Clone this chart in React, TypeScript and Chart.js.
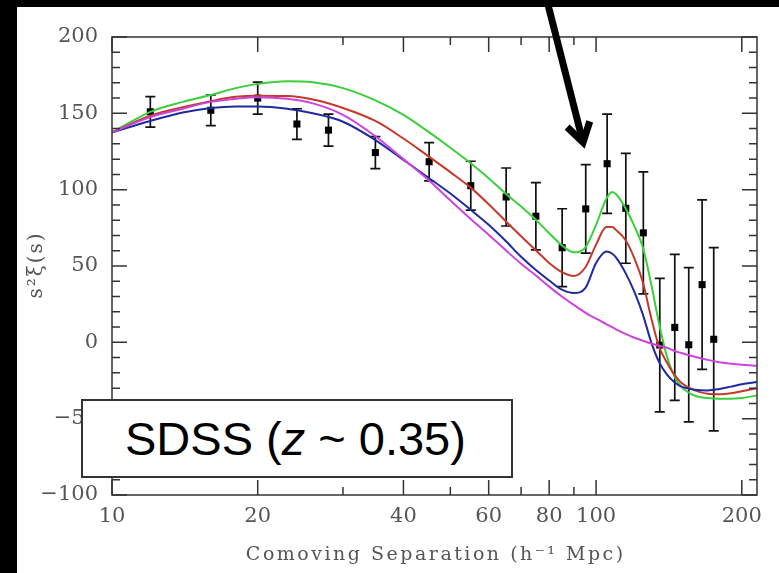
import React, { useEffect, useRef } from 'react';
import { Chart, registerables } from 'chart.js';

Chart.register(...registerables);

// Observed correlation function (SDSS LRG, z ~ 0.35)
const sep = [12, 16, 20, 24.1, 28, 35, 45.2, 55.1, 65.2, 75.1, 85.1, 95.2, 105.4, 115.2, 125.2, 135.4, 145.4, 155.4, 165.6, 175];
const xiObs = [151, 152, 160, 143, 139, 124.3, 118.3, 102.6, 95.2, 82.6, 62, 87.4, 117, 87.8, 71.7, -1.8, 9.8, -1.6, 37.8, 2];
const xiErr = [10, 10, 10.5, 10, 10.5, 10.5, 12.5, 16, 19, 22, 25.5, 29, 32.5, 36, 40, 43.7, 47.8, 50.5, 55.5, 60];

// Model curves
const modelS = [10, 12, 14, 16, 18, 20, 23, 26, 30, 35, 40, 45, 50, 55, 60, 65, 70, 75, 80, 85, 90, 95, 100, 105, 108, 110, 115, 120, 125, 130, 135, 140, 145, 150, 160, 170, 180, 190, 200, 215];
const modelGreen = [137.5, 151, 157.5, 162, 166.5, 169.3, 171, 170.4, 166.5, 158.5, 149, 138, 127.5, 117.5, 107.5, 97.5, 89, 80.5, 71.5, 63.5, 59, 62, 77, 94, 98.5, 97, 88, 76, 62, 38, 12, -9, -22, -29, -35, -36.5, -37, -37, -36.5, -34.8];
const modelRed = [137.5, 148.5, 154, 158, 160.8, 161.5, 161.3, 159, 153.5, 145, 133.5, 122, 111.5, 101.5, 90.5, 79.5, 69.5, 60.5, 52, 46, 43.5, 49, 64, 75.5, 75.5, 73.5, 67, 55, 39, 16, -3, -13, -21, -26.5, -31.5, -33.7, -34, -33.3, -32, -30];
const modelMagenta = [137.5, 147.5, 153, 157.5, 159.5, 160.5, 159.5, 156.5, 149, 135, 120, 106.5, 93, 81, 70.5, 60.5, 51.5, 44, 36.5, 30, 24.5, 19.5, 15.5, 12, 10, 8.5, 5.5, 3, 1, -0.8, -2.3, -3.5, -5.5, -7, -9.5, -11.5, -13, -14, -14.7, -15.3];
const modelBlue = [137.5, 145, 150.5, 153.5, 154.5, 154.5, 153, 150, 144.5, 132.5, 119.5, 108, 97.5, 87, 77, 66.5, 56, 47.5, 40.5, 34.5, 32.3, 35.5, 52, 59.5, 58, 55.5, 45.5, 33, 18, 0, -13, -21, -26, -29, -31, -31.5, -30.5, -29, -27.5, -26];

// Axes
const xMin = 10;
const xMax = 215;
const xMajorTicks = [10, 20, 40, 60, 80, 100, 200];
const xMinorTicks = [30, 50, 70, 90];
const yMin = -100;
const yMax = 200;
const yMajorStep = 50;
const yMinorStep = 10;

const xTitle = 'Comoving Separation (h\u207B\u00B9 Mpc)';
const yTitle = 's\u00B2\u03BE(s)';

// Arrow annotation (data coordinates)
const arrowTail = { x: 79, y: 225 };
const arrowTip = { x: 94, y: 131 };

const tickFont = { family: 'DejaVu Serif', size: 21 };
const tickColor = '#555';

function drawSpaced(ctx: any, text: string, cx: number, baseline: number, spacing: number) {
  ctx.letterSpacing = spacing + 'px';
  const w = ctx.measureText(text).width;
  ctx.textAlign = 'left';
  ctx.textBaseline = 'alphabetic';
  ctx.fillText(text, cx - (w - spacing) / 2, baseline);
  ctx.letterSpacing = '0px';
}

const framePlugin = {
  id: 'framePlugin',
  beforeDatasetsDraw(chart: any) {
    const { ctx } = chart;
    const x = chart.scales.x;
    const y = chart.scales.y;
    ctx.save();
    ctx.strokeStyle = '#111';
    ctx.lineWidth = 1.7;
    sep.forEach((s, i) => {
      const px = x.getPixelForValue(s);
      const top = y.getPixelForValue(xiObs[i] + xiErr[i]);
      const bot = y.getPixelForValue(xiObs[i] - xiErr[i]);
      ctx.beginPath();
      ctx.moveTo(px, top);
      ctx.lineTo(px, bot);
      ctx.moveTo(px - 5, top);
      ctx.lineTo(px + 5, top);
      ctx.moveTo(px - 5, bot);
      ctx.lineTo(px + 5, bot);
      ctx.stroke();
    });
    ctx.restore();
  },
  afterDraw(chart: any) {
    const { ctx, chartArea } = chart;
    const x = chart.scales.x;
    const y = chart.scales.y;
    const { left, right, top, bottom } = chartArea;
    ctx.save();
    ctx.strokeStyle = '#333';
    ctx.lineWidth = 1.5;
    ctx.strokeRect(left, top, right - left, bottom - top);
    ctx.beginPath();
    const major = 15;
    const minor = 8;
    xMajorTicks.forEach((v) => {
      const px = x.getPixelForValue(v);
      ctx.moveTo(px, bottom);
      ctx.lineTo(px, bottom - major);
      ctx.moveTo(px, top);
      ctx.lineTo(px, top + major);
    });
    xMinorTicks.forEach((v) => {
      const px = x.getPixelForValue(v);
      ctx.moveTo(px, bottom);
      ctx.lineTo(px, bottom - minor);
      ctx.moveTo(px, top);
      ctx.lineTo(px, top + minor);
    });
    for (let v = yMin; v <= yMax; v += yMinorStep) {
      const py = y.getPixelForValue(v);
      const len = v % yMajorStep === 0 ? major : minor;
      ctx.moveTo(left, py);
      ctx.lineTo(left + len, py);
      ctx.moveTo(right, py);
      ctx.lineTo(right - len, py);
    }
    ctx.stroke();

    // axis titles
    ctx.fillStyle = '#555';
    ctx.font = '19px "DejaVu Serif"';
    drawSpaced(ctx, xTitle, (left + right) / 2, bottom + 65, 2.5);
    ctx.save();
    ctx.translate(left - 70, (top + bottom) / 2);
    ctx.rotate(-Math.PI / 2);
    ctx.font = '20px "DejaVu Serif"';
    drawSpaced(ctx, yTitle, 0, 0, 2);
    ctx.restore();

    // arrow
    const tx = x.getPixelForValue(arrowTail.x);
    const ty = y.getPixelForValue(arrowTail.y);
    const hx = x.getPixelForValue(arrowTip.x);
    const hy = y.getPixelForValue(arrowTip.y);
    const ang = Math.atan2(ty - hy, tx - hx);
    const wing = 22;
    const spread = (32 * Math.PI) / 180;
    ctx.strokeStyle = '#000';
    ctx.lineWidth = 7;
    ctx.lineCap = 'butt';
    ctx.lineJoin = 'miter';
    ctx.beginPath();
    ctx.moveTo(tx, ty);
    ctx.lineTo(hx, hy);
    ctx.stroke();
    ctx.beginPath();
    ctx.moveTo(hx + wing * Math.cos(ang + spread), hy + wing * Math.sin(ang + spread));
    ctx.lineTo(hx, hy);
    ctx.lineTo(hx + wing * Math.cos(ang - spread), hy + wing * Math.sin(ang - spread));
    ctx.stroke();
    ctx.restore();
  },
};

function curve(values: number[], color: string) {
  return {
    data: modelS.map((s, i) => ({ x: s, y: values[i] })),
    showLine: true,
    borderColor: color,
    backgroundColor: color,
    borderWidth: 2,
    pointRadius: 0,
    cubicInterpolationMode: 'monotone' as const,
    fill: false,
  };
}

export default function App() {
  const canvasRef = useRef<HTMLCanvasElement | null>(null);

  useEffect(() => {
    if (!canvasRef.current) return;
    const chart = new Chart(canvasRef.current, {
      type: 'scatter',
      data: {
        datasets: [
          curve(modelMagenta, '#cc44dd'),
          curve(modelBlue, '#1f2a9e'),
          curve(modelRed, '#c4392c'),
          curve(modelGreen, '#3ccf3c'),
          {
            data: sep.map((s, i) => ({ x: s, y: xiObs[i] })),
            showLine: false,
            pointStyle: 'rect',
            pointRadius: 5,
            pointBackgroundColor: '#000',
            pointBorderWidth: 0,
            backgroundColor: '#000',
            borderColor: '#000',
          } as any,
        ],
      },
      options: {
        responsive: false,
        animation: false,
        layout: { padding: { left: 0, top: 30, right: 22, bottom: 0 } },
        plugins: { legend: { display: false }, tooltip: { enabled: false } },
        scales: {
          x: {
            type: 'logarithmic',
            min: xMin,
            max: xMax,
            grid: { display: false, drawTicks: false },
            border: { display: false },
            afterBuildTicks: (s: any) => {
              s.ticks = xMajorTicks.map((v) => ({ value: v }));
            },
            afterFit: (s: any) => {
              s.height = 78;
            },
            ticks: {
              autoSkip: false,
              maxRotation: 0,
              padding: 9,
              color: tickColor,
              font: tickFont,
              callback: (v: any) => String(v),
            },
          },
          y: {
            type: 'linear',
            min: yMin,
            max: yMax,
            grid: { display: false, drawTicks: false },
            border: { display: false },
            afterFit: (s: any) => {
              s.width = 95;
            },
            ticks: {
              stepSize: yMajorStep,
              padding: 14,
              color: tickColor,
              font: tickFont,
              callback: (v: any) => (v < 0 ? '\u2212' + Math.abs(v) : String(v)),
            },
          },
        },
      } as any,
      plugins: [framePlugin],
    });
    return () => chart.destroy();
  }, []);

  return (
    <div style={{ position: 'fixed', left: 0, top: 0, width: 779, height: 573, background: '#000', overflow: 'hidden' }}>
      <div style={{ position: 'absolute', left: 17, top: 7, width: 762, height: 566, background: '#fff' }} />
      <canvas
        ref={canvasRef}
        width={762}
        height={566}
        style={{ position: 'absolute', left: 17, top: 7, width: 762, height: 566 }}
      />
      <div
        style={{
          position: 'absolute',
          left: 81,
          top: 399,
          width: 432,
          height: 79,
          boxSizing: 'border-box',
          border: '2px solid #333',
          background: '#fff',
          display: 'flex',
          alignItems: 'center',
          paddingLeft: 42,
          fontFamily: '"Liberation Sans", Arial, sans-serif',
          fontSize: 47,
          color: '#000',
          whiteSpace: 'nowrap',
        }}
      >
        <span>
          SDSS (<i>z</i> ~ 0.35)
        </span>
      </div>
    </div>
  );
}
